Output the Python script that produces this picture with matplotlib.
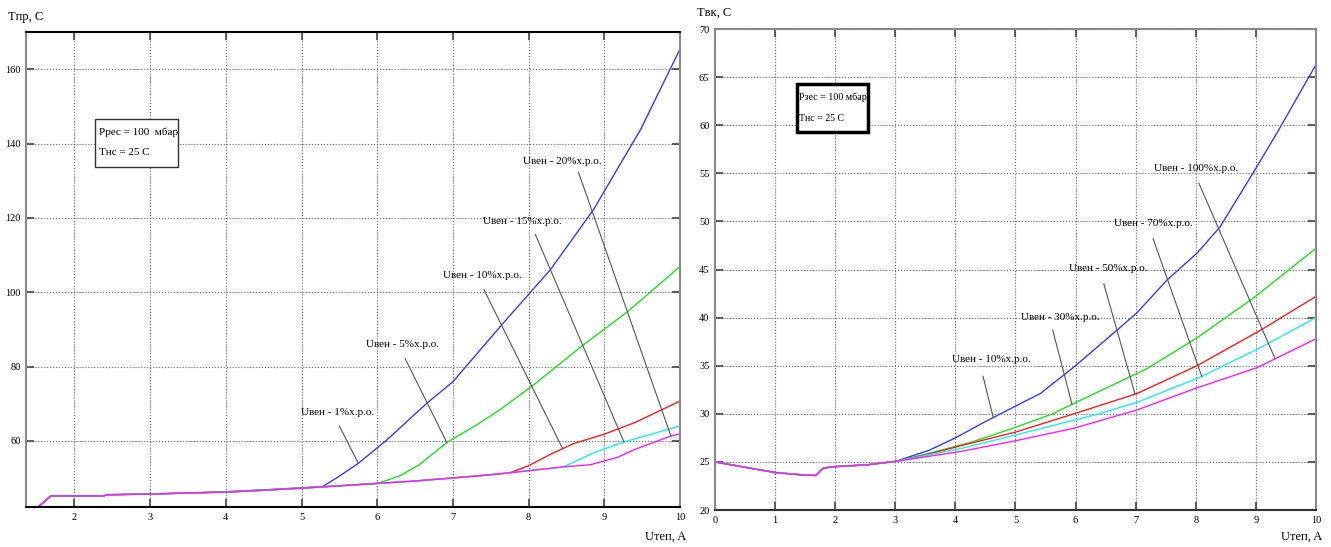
import numpy as np
import matplotlib.pyplot as plt
from matplotlib.patches import Rectangle

plt.rcParams['font.family'] = ['Liberation Serif', 'DejaVu Serif']

# ---------- левый график: Tпр(Uтеп) ----------
l_blue_x = [1.52, 1.69, 2.39, 2.42, 3.03, 3.55, 4.0, 4.5, 5.04, 5.28, 5.5, 5.76, 6.13, 6.66, 7.0, 7.67, 8.29, 8.86, 9.48, 10.0]
l_blue_y = [42.2, 45.2, 45.2, 45.5, 45.7, 46.0, 46.3, 46.8, 47.4, 47.7, 50.5, 54.1, 60.3, 70.2, 75.9, 91.8, 106.1, 122.3, 143.8, 165.4]

l_green_x = [1.52, 1.69, 2.39, 2.42, 3.03, 3.55, 4.0, 4.5, 5.04, 5.5, 6.0, 6.13, 6.3, 6.55, 6.93, 7.33, 7.63, 8.07, 8.69, 9.31, 10.0]
l_green_y = [42.2, 45.2, 45.2, 45.5, 45.7, 46.0, 46.3, 46.8, 47.4, 47.9, 48.6, 49.4, 50.6, 53.5, 59.7, 64.5, 68.5, 75.1, 85.3, 94.8, 106.9]

l_red_x = [1.52, 1.69, 2.39, 2.42, 3.03, 3.55, 4.0, 4.5, 5.04, 5.5, 5.97, 6.5, 6.99, 7.4, 7.75, 8.0, 8.3, 8.6, 9.0, 9.4, 9.7, 10.0]
l_red_y = [42.2, 45.2, 45.2, 45.5, 45.7, 46.0, 46.2, 46.7, 47.3, 47.9, 48.5, 49.2, 50.0, 50.7, 51.4, 53.3, 56.5, 59.3, 61.8, 64.9, 67.8, 70.7]

l_cyan_x = [1.52, 1.69, 2.39, 2.42, 3.03, 3.55, 4.0, 4.5, 5.04, 5.5, 5.97, 6.5, 6.99, 7.4, 7.75, 8.1, 8.46, 8.86, 9.26, 10.0]
l_cyan_y = [42.2, 45.2, 45.2, 45.5, 45.7, 46.0, 46.2, 46.7, 47.3, 47.9, 48.5, 49.2, 50.0, 50.7, 51.4, 52.2, 53.0, 56.8, 59.7, 64.0]

l_mag_x = [1.52, 1.69, 2.39, 2.42, 3.03, 3.55, 4.0, 4.5, 5.04, 5.5, 5.97, 6.5, 6.99, 7.4, 7.75, 8.1, 8.46, 8.82, 9.18, 9.39, 9.88, 10.0]
l_mag_y = [42.2, 45.2, 45.2, 45.5, 45.7, 46.0, 46.2, 46.7, 47.3, 47.9, 48.5, 49.2, 50.0, 50.7, 51.4, 52.2, 53.0, 53.6, 55.6, 57.6, 61.3, 61.9]

l_labels = ['Uвен - 1%х.р.о.', 'Uвен - 5%х.р.о.', 'Uвен - 10%х.р.о.', 'Uвен - 15%х.р.о.', 'Uвен - 20%х.р.о.']

# ---------- правый график: Tвк(Uтеп) ----------
r_base_x = [0.0, 0.45, 1.0, 1.35, 1.63, 1.68, 1.8, 1.97, 2.53, 3.0]
r_base_y = [25.0, 24.5, 23.9, 23.7, 23.6, 23.6, 24.35, 24.5, 24.7, 25.05]

r_blue_x = [3.56, 4.0, 4.5, 5.0, 5.41, 5.96, 6.69, 7.02, 7.52, 8.02, 8.4, 8.95, 9.37, 10.0]
r_blue_y = [26.2, 27.5, 29.2, 30.8, 32.1, 34.8, 38.7, 40.5, 43.9, 46.7, 49.4, 55.0, 59.4, 66.3]

r_green_x = [3.56, 4.24, 4.91, 5.62, 5.91, 7.19, 8.02, 8.95, 10.0]
r_green_y = [25.9, 27.0, 28.4, 30.0, 30.9, 34.7, 37.9, 42.0, 47.2]

r_red_x = [3.49, 4.1, 5.0, 5.97, 7.02, 8.02, 9.08, 10.0]
r_red_y = [25.7, 26.7, 28.1, 30.0, 32.1, 35.0, 38.7, 42.2]

r_cyan_x = [4.1, 5.0, 6.39, 7.02, 8.07, 9.08, 10.0]
r_cyan_y = [26.4, 27.8, 30.0, 31.2, 33.8, 36.9, 40.0]

r_mag_x = [4.1, 5.0, 5.97, 7.02, 8.02, 9.02, 10.0]
r_mag_y = [26.1, 27.2, 28.5, 30.4, 32.7, 34.8, 37.8]

r_labels = ['Uвен - 10%х.р.о.', 'Uвен - 30%х.р.о.', 'Uвен - 50%х.р.о.', 'Uвен - 70%х.р.о.', 'Uвен - 100%х.р.о.']

colors = ['#3838ff', '#19e619', '#ff1a1a', '#19f0f0', '#ff19ff']


def oformit(ax, xlim, ylim, xticks, yticks):
    ax.set_xlim(*xlim)
    ax.set_ylim(*ylim)
    ax.set_xticks(xticks)
    ax.set_yticks(yticks)
    ax.grid(True, linestyle=':', color='#666666', linewidth=0.8)
    ax.tick_params(direction='in', length=6, width=1.2, color='#444444',
                   top=True, right=True, labelsize=7.5, pad=4)
    for s in ax.spines.values():
        s.set_linewidth(1.5)
        s.set_color('#8a8a8a')


fig = plt.figure(figsize=(13.31, 5.47), dpi=100)

# левый
ax1 = fig.add_axes([0.0195, 0.0731, 0.4914, 0.8684])
oformit(ax1, (1.36, 10), (42.2, 170), range(2, 11), range(60, 161, 20))
ax1.spines['top'].set_color('black')
ax1.spines['bottom'].set_color('black')
curves1 = [(l_blue_x, l_blue_y), (l_green_x, l_green_y), (l_red_x, l_red_y),
           (l_cyan_x, l_cyan_y), (l_mag_x, l_mag_y)]
for (cx, cy), c in zip(curves1, colors):
    ax1.plot(cx, cy, color=c, lw=1.0)

# подписи: (текст x, текст y, начало линии, x конца на кривой)
l_ann = [(5.47, 67.5, 5.50, 64.0, 5.75), (6.33, 85.9, 6.37, 82.1, 6.92),
         (7.39, 104.5, 7.41, 100.7, 8.45), (7.92, 119.0, 8.09, 115.5, 9.26),
         (8.44, 135.2, 8.66, 132.2, 9.88)]
for (tx, ty, sx, sy, ex), lab, (cx, cy) in zip(l_ann, l_labels, curves1):
    ax1.text(tx, ty, lab, ha='center', va='center', fontsize=8)
    ax1.plot([sx, ex], [sy, np.interp(ex, cx, cy)], color='#555555', lw=0.8)

ax1.add_patch(Rectangle((0.1055, 0.716), 0.127, 0.101, transform=ax1.transAxes,
                        fill=True, facecolor='white', edgecolor='#333333', lw=1.0, zorder=3))
ax1.text(0.112, 0.789, 'Pрес = 100  мбар', transform=ax1.transAxes, fontsize=8, va='center', zorder=4)
ax1.text(0.112, 0.747, 'Tнс = 25 C', transform=ax1.transAxes, fontsize=8, va='center', zorder=4)

# правый
ax2 = fig.add_axes([0.5372, 0.0676, 0.4515, 0.8793])
oformit(ax2, (0, 10), (20, 70), range(0, 11), range(20, 71, 5))
ax2.spines['bottom'].set_color('#333333')
curves2 = []
for cx, cy in [(r_blue_x, r_blue_y), (r_green_x, r_green_y), (r_red_x, r_red_y),
               (r_cyan_x, r_cyan_y), (r_mag_x, r_mag_y)]:
    curves2.append((r_base_x + cx, r_base_y + cy))
for (cx, cy), c in zip(curves2, colors):
    ax2.plot(cx, cy, color=c, lw=1.0)

r_ann = [(4.59, 35.6, 4.46, 33.9, 4.63), (5.74, 40.0, 5.62, 38.7, 5.94),
         (6.54, 45.1, 6.47, 43.5, 6.99), (7.30, 49.8, 7.29, 48.2, 8.10),
         (8.00, 55.5, 8.05, 54.0, 9.32)]
for (tx, ty, sx, sy, ex), lab, (cx, cy) in zip(r_ann, r_labels, curves2):
    ax2.text(tx, ty, lab, ha='center', va='center', fontsize=8)
    ax2.plot([sx, ex], [sy, np.interp(ex, cx, cy)], color='#555555', lw=0.8)

ax2.add_patch(Rectangle((0.1364, 0.786), 0.118, 0.10, transform=ax2.transAxes,
                        facecolor='white', edgecolor='black', lw=2.5, zorder=3))
ax2.text(0.140, 0.859, 'Pзес = 100 мбар', transform=ax2.transAxes, fontsize=7.2, va='center', zorder=4)
ax2.text(0.140, 0.813, 'Tнс = 25 C', transform=ax2.transAxes, fontsize=7.2, va='center', zorder=4)

# подписи осей
fig.text(8 / 1331, 1 - 17 / 547, 'Tпр, C', fontsize=9, va='center')
fig.text(697 / 1331, 1 - 13 / 547, 'Tвк, C', fontsize=9, va='center')
fig.text(686 / 1331, 1 - 537 / 547, 'Uтеп, A', fontsize=9, va='center', ha='right')
fig.text(1322 / 1331, 1 - 537 / 547, 'Uтеп, A', fontsize=9, va='center', ha='right')

fig.savefig('out.png', dpi=100)
